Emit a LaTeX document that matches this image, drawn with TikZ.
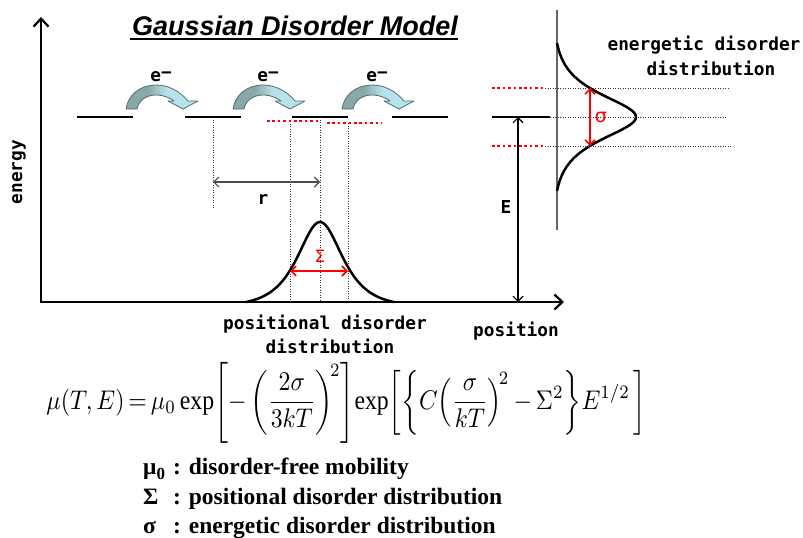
\documentclass[tikz,border=0pt]{standalone}
\usepackage{fontspec}
\usepackage{graphicx}
\usetikzlibrary{arrows.meta}
\setmainfont{Liberation Serif}
\newfontfamily\titlefont{Liberation Sans}
\newfontfamily\gfont{DejaVu Sans Mono}
\newfontfamily\sgfont{DejaVu Sans}
\definecolor{arrdark}{RGB}{138,168,168}
\definecolor{arrlight}{RGB}{182,226,234}
\definecolor{hopedge}{RGB}{80,110,112}
\newcommand\hoppath{(0,0) -- (11,0) .. controls (13,-10) and (22,-14) .. (30,-14) .. controls (38,-14) and (44,-11) .. (48,-8) -- (42,-8) -- (57,0) -- (72,-8) -- (62,-8) .. controls (54,-18) and (42,-24) .. (30,-24) .. controls (14,-24) and (2,-14) .. (0,0) -- cycle}
\tikzset{
  hop/.pic={
    \begin{scope}
      \clip \hoppath;
      \fill[arrlight] (-5,-30) rectangle (80,5);
      \fill[arrdark] (-5,-30) rectangle (22,5);
      \shade[left color=arrdark,right color=arrlight] (22,-30) rectangle (40,5);
    \end{scope}
    \draw[hopline] \hoppath;
  },
  hopline/.style={draw=hopedge, line width=0.8pt, line join=round},
  glabel/.style={font=\gfont\bfseries\fontsize{17.8}{20}\selectfont, inner sep=0pt},
  level/.style={line width=2.5pt},
  curve/.style={line width=2.5pt, line join=round},
  blackdots/.style={line width=0.9pt, black!80, dash pattern=on 1.2pt off 1.3pt},
  reddots/.style={line width=2.6pt, red, dash pattern=on 2.6pt off 2.8pt},
  thinarrow/.style={line width=1.2pt, >={Straight Barb[length=5pt,width=10pt]}, <->},
  redarrow/.style={line width=1.6pt, red, >={Straight Barb[length=5pt,width=10pt]}, <->},
  axisline/.style={line width=2.2pt, line join=miter, >={Straight Barb[length=8pt,width=15pt]}, <->},
  legend/.style={anchor=base west, inner sep=0pt, font=\bfseries\fontsize{23.5}{28}\selectfont}
}
\begin{document}
\begin{tikzpicture}[x=1pt,y=-1pt]
\useasboundingbox (0,0) rectangle (803,538);

% title
\node[anchor=base, inner sep=0pt, font=\titlefont\bfseries\itshape\fontsize{27}{30}\selectfont] (title) at (295,35) {Gaussian Disorder Model};
\coordinate (ul1) at (130,39);
\coordinate (ul2) at (458,39);
\draw[line width=2pt] (ul1) -- (ul2);

% axes
\coordinate (O) at (41,302);
\coordinate (ytip) at (41,17);
\coordinate (xtip) at (564,302);
\draw[axisline] (ytip) -- (O) -- (xtip);
\node[glabel, rotate=90] (energy) at (19,172) {energy};
\node[glabel, anchor=base] (position) at (516,336) {position};

% energy levels
\foreach \a/\b [count=\i] in {77/133,185/241,292/348,392/448,492/550}{
  \coordinate (L\i a) at (\a,117);
  \coordinate (L\i b) at (\b,117);
  \draw[level] (L\i a) -- (L\i b);
}

% hopping arrows
\foreach \p [count=\i] in {126,233,342}{
  \pic (hop\i) at (\p,109) {hop};
  \node[glabel] (e\i) at (\p+35,77) {e\raisebox{3pt}{−}};
}

% dotted verticals
\coordinate (d1t) at (213,117); \coordinate (d1b) at (213,208);
\coordinate (d2t) at (290,121); \coordinate (d2b) at (290,302);
\coordinate (d3t) at (320,117); \coordinate (d3b) at (320,302);
\coordinate (d4t) at (348,123); \coordinate (d4b) at (348,302);
\foreach \i in {1,2,3,4}{\draw[blackdots] (d\i t) -- (d\i b);}

% red dotted offsets
\coordinate (r1a) at (267,121); \coordinate (r1b) at (320,121);
\coordinate (r2a) at (327,123); \coordinate (r2b) at (382,123);
\draw[reddots] (r1a) -- (r1b);
\draw[reddots] (r2a) -- (r2b);

% r arrow
\coordinate (ra) at (213,182);
\coordinate (rb) at (320,182);
\draw[thinarrow, black!70] (ra) -- (rb);
\node[glabel] (rlab) at (263,200) {r};

% positional gaussian
\draw[curve] plot[domain=246:394, samples=120] (\x, {302-80*(1/cosh((\x-320)/20)-0.0494)/0.9506});
\coordinate (sa) at (290,271);
\coordinate (sb) at (348,271);
\draw[redarrow] (sa) -- (sb);
\node[text=red, inner sep=0pt, font=\sgfont\fontsize{17}{18}\selectfont] (Slab) at (320,256) {Σ};
\node[glabel, anchor=base, text height=12pt, text depth=3pt] (pd1) at (325,329) {positional disorder};
\node[glabel, anchor=base, text height=12pt, text depth=3pt] (pd2) at (330,353) {distribution};

% E arrow
\coordinate (Ea) at (518,117);
\coordinate (Eb) at (518,302);
\draw[thinarrow, black] (Ea) -- (Eb);
\node[glabel] (Elab) at (506,207) {E};

% energetic distribution
\coordinate (va) at (557,10);
\coordinate (vb) at (557,230);
\draw[line width=1.2pt, black!60] (va) -- (vb);
\draw[curve] plot[domain=43:191, samples=120] ({557+79*(1/cosh((\x-117)/20)-0.0494)/0.9506}, \x);
\coordinate (h1a) at (545,88); \coordinate (h1b) at (729,88);
\coordinate (h2a) at (550,117); \coordinate (h2b) at (726,117);
\coordinate (h3a) at (545,146); \coordinate (h3b) at (731,146);
\foreach \i in {1,2,3}{\draw[blackdots] (h\i a) -- (h\i b);}
\coordinate (q1a) at (492,88); \coordinate (q1b) at (545,88);
\coordinate (q2a) at (492,146); \coordinate (q2b) at (545,146);
\draw[reddots] (q1a) -- (q1b);
\draw[reddots] (q2a) -- (q2b);
\coordinate (sga) at (590,88);
\coordinate (sgb) at (590,146);
\draw[redarrow] (sga) -- (sgb);
\node[text=red, inner sep=0pt, font=\sgfont\fontsize{19}{20}\selectfont] (sglab) at (601,117) {σ};
\node[glabel, anchor=base, text height=12pt, text depth=3pt] (ed1) at (704,50) {energetic disorder};
\node[glabel, anchor=base, text height=12pt, text depth=3pt] (ed2) at (711,75) {distribution};

% formula
\node[inner sep=0pt] (formula) at (346.5,402.5) {\resizebox*{600pt}{81pt}{$\medmuskip=3mu\thickmuskip=3mu\displaystyle \mu(T,E)=\mu_0\exp\!\left[-\left(\frac{2\sigma}{3kT}\right)^{\!2}\right]\!\exp\!\left[\left\{C\!\left(\frac{\sigma}{kT}\right)^{\!2}-\Sigma^{2}\right\}\!E^{1/2}\,\right]$}};

% legend
\node[legend] (leg1) at (143,474) {\makebox[30pt][l]{μ\raisebox{-5pt}{\fontsize{17}{17}\selectfont 0}}: disorder-free mobility};
\node[legend] (leg2) at (143,504) {\makebox[30pt][l]{Σ}: positional disorder distribution};
\node[legend] (leg3) at (143,533) {\makebox[30pt][l]{σ}: energetic disorder distribution};
\end{tikzpicture}
\end{document}
